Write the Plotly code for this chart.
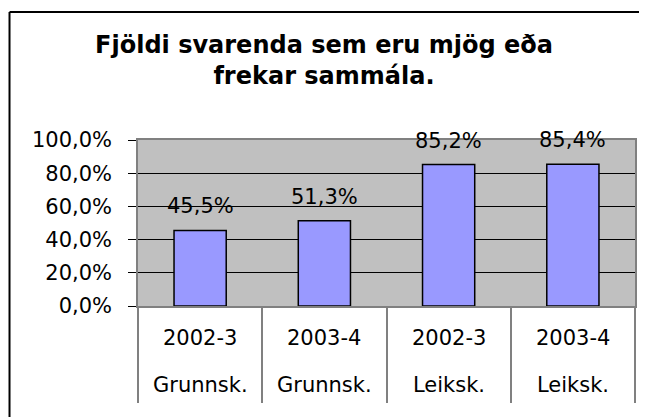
import plotly.graph_objects as go

categories = ["2002-3", "2003-4", "2002-3", "2003-4"]
groups = ["Grunnsk.", "Grunnsk.", "Leiksk.", "Leiksk."]
values = [0.455, 0.513, 0.852, 0.854]
y_ticks = [0, 0.2, 0.4, 0.6, 0.8, 1.0]
title_text = "Fjöldi svarenda sem eru mjög eða<br>frekar sammála."

FONT = "DejaVu Sans"
idx = list(range(len(values)))

# the page places the figure 8px in from the top-left corner
OFF = 8
W, H = 647 - OFF, 417 - OFF
L, R, T, B = 138 - OFF, 647 - 637, 140 - OFF, 417 - 306
PW, PH = W - L - R, H - T - B


def px_x(p):  # page x pixel -> paper fraction
    return (p - 138) / PW


def px_y(p):  # page y pixel -> paper fraction
    return (306 - p) / PH


fig = go.Figure()
fig.add_trace(go.Bar(
    x=idx, y=values, width=0.42,
    marker=dict(color="#9999FF", line=dict(color="black", width=1.5)),
    hoverinfo="skip",
))

annotations = []
for i, v in enumerate(values):
    lbl = f"{v*100:.1f}%".replace(".", ",")
    annotations.append(dict(x=i, y=v, xref="x", yref="y", text=lbl, showarrow=False,
                            yanchor="middle", yshift=24,
                            font=dict(family=FONT, size=21, color="black")))
    annotations.append(dict(x=i, y=px_y(338), xref="x", yref="paper", text=categories[i],
                            showarrow=False, yanchor="middle",
                            font=dict(family=FONT, size=21, color="black")))
    annotations.append(dict(x=i, y=px_y(385), xref="x", yref="paper", text=groups[i],
                            showarrow=False, yanchor="middle",
                            font=dict(family=FONT, size=21, color="black")))

fig.update_layout(
    width=W, height=H,
    margin=dict(l=L, r=R, t=T, b=B),
    paper_bgcolor="white", plot_bgcolor="#C0C0C0",
    separators=",.",
    showlegend=False,
    font=dict(family=FONT, size=21, color="black"),
    title=dict(text=title_text, x=(324 - OFF) / W, xref="container", xanchor="center",
               y=1 - 45 / H, yref="container", yanchor="top",
               font=dict(family=FONT, size=24, color="black", weight="bold")),
    annotations=annotations,
    shapes=[
        dict(type="line", xref="paper", yref="paper", x0=px_x(9), x1=px_x(670),
             y0=px_y(12), y1=px_y(12), line=dict(color="black", width=2)),
        dict(type="line", xref="paper", yref="paper", x0=px_x(9), x1=px_x(9),
             y0=px_y(12), y1=px_y(440), line=dict(color="black", width=2)),
    ],
)
fig.update_xaxes(range=[-0.5, len(values) - 0.5], tickmode="array",
                 tickvals=[i - 0.5 for i in range(len(values) + 1)], ticktext=[""] * (len(values) + 1),
                 ticks="outside", ticklen=95, tickcolor="#808080", tickwidth=1.5,
                 showticklabels=False, showgrid=False, zeroline=False,
                 showline=True, mirror=True, linecolor="#808080", linewidth=1.5)
fig.update_yaxes(range=[0, 1], tickvals=y_ticks, tickformat=".1%",
                 ticks="outside", ticklen=8, tickcolor="black", tickwidth=1,
                 ticklabelstandoff=12,
                 showgrid=True, gridcolor="black", gridwidth=1, zeroline=False,
                 showline=True, mirror=True, linecolor="#808080", linewidth=1.5,
                 tickfont=dict(family=FONT, size=21, color="black"))

fig.write_html("out.html")
